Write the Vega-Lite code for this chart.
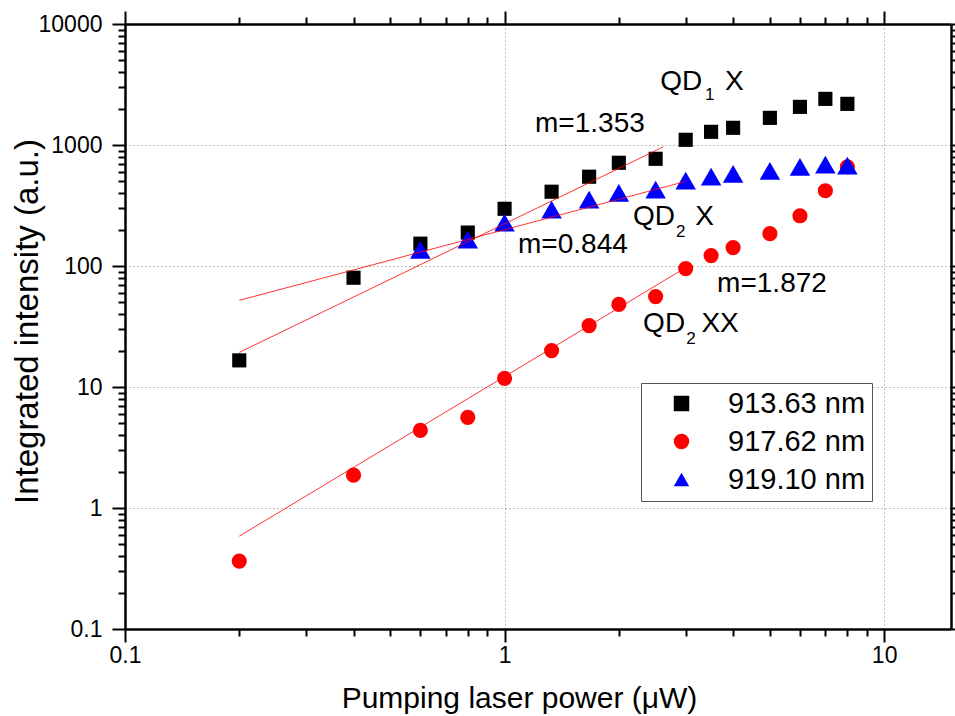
{
  "$schema": "https://vega.github.io/schema/vega-lite/v6.json",
  "width": 826,
  "height": 605,
  "autosize": "none",
  "padding": {"left": 125, "top": 24, "right": 4, "bottom": 87},
  "background": "white",
  "config": {
    "view": {"stroke": null},
    "font": "Liberation Sans",
    "axis": {
      "domainColor": "black",
      "domainWidth": 2.5,
      "tickColor": "black",
      "tickWidth": 2,
      "labelColor": "black",
      "labelFont": "Liberation Sans",
      "labelFontSize": 23,
      "labelFlush": false,
      "labelOverlap": false,
      "titleFont": "Liberation Sans",
      "titleColor": "black",
      "titleFontWeight": "normal"
    }
  },
  "datasets": {
    "points": [
      {"series": "913.63 nm", "power": 0.2, "intensity": 16.6},
      {"series": "913.63 nm", "power": 0.4, "intensity": 80},
      {"series": "913.63 nm", "power": 0.6, "intensity": 153},
      {"series": "913.63 nm", "power": 0.8, "intensity": 189},
      {"series": "913.63 nm", "power": 1.0, "intensity": 297},
      {"series": "913.63 nm", "power": 1.33, "intensity": 411},
      {"series": "913.63 nm", "power": 1.67, "intensity": 547},
      {"series": "913.63 nm", "power": 2.0, "intensity": 713},
      {"series": "913.63 nm", "power": 2.5, "intensity": 769},
      {"series": "913.63 nm", "power": 3.0, "intensity": 1104},
      {"series": "913.63 nm", "power": 3.5, "intensity": 1285},
      {"series": "913.63 nm", "power": 4.0, "intensity": 1387},
      {"series": "913.63 nm", "power": 5.0, "intensity": 1676},
      {"series": "913.63 nm", "power": 6.0, "intensity": 2066},
      {"series": "913.63 nm", "power": 7.0, "intensity": 2405},
      {"series": "913.63 nm", "power": 8.0, "intensity": 2188},
      {"series": "917.62 nm", "power": 0.2, "intensity": 0.364},
      {"series": "917.62 nm", "power": 0.4, "intensity": 1.87},
      {"series": "917.62 nm", "power": 0.6, "intensity": 4.38},
      {"series": "917.62 nm", "power": 0.8, "intensity": 5.61},
      {"series": "917.62 nm", "power": 1.0, "intensity": 11.8},
      {"series": "917.62 nm", "power": 1.33, "intensity": 20.0},
      {"series": "917.62 nm", "power": 1.67, "intensity": 32.2},
      {"series": "917.62 nm", "power": 2.0, "intensity": 48.1},
      {"series": "917.62 nm", "power": 2.5, "intensity": 55.9},
      {"series": "917.62 nm", "power": 3.0, "intensity": 95.2},
      {"series": "917.62 nm", "power": 3.5, "intensity": 122},
      {"series": "917.62 nm", "power": 4.0, "intensity": 142},
      {"series": "917.62 nm", "power": 5.0, "intensity": 185},
      {"series": "917.62 nm", "power": 6.0, "intensity": 260},
      {"series": "917.62 nm", "power": 7.0, "intensity": 419},
      {"series": "917.62 nm", "power": 8.0, "intensity": 661},
      {"series": "919.10 nm", "power": 0.6, "intensity": 136},
      {"series": "919.10 nm", "power": 0.8, "intensity": 165},
      {"series": "919.10 nm", "power": 1.0, "intensity": 228},
      {"series": "919.10 nm", "power": 1.33, "intensity": 292},
      {"series": "919.10 nm", "power": 1.67, "intensity": 353},
      {"series": "919.10 nm", "power": 2.0, "intensity": 403},
      {"series": "919.10 nm", "power": 2.5, "intensity": 427},
      {"series": "919.10 nm", "power": 3.0, "intensity": 507},
      {"series": "919.10 nm", "power": 3.5, "intensity": 547},
      {"series": "919.10 nm", "power": 4.0, "intensity": 578},
      {"series": "919.10 nm", "power": 5.0, "intensity": 612},
      {"series": "919.10 nm", "power": 6.0, "intensity": 661},
      {"series": "919.10 nm", "power": 7.0, "intensity": 687},
      {"series": "919.10 nm", "power": 8.0, "intensity": 674}
    ],
    "fits": [
      {"fit": "QD1 X", "power": 0.2, "intensity": 19.3},
      {"fit": "QD1 X", "power": 2.62, "intensity": 966},
      {"fit": "QD2 X", "power": 0.2, "intensity": 52},
      {"fit": "QD2 X", "power": 3.0, "intensity": 500},
      {"fit": "QD2 XX", "power": 0.2, "intensity": 0.585},
      {"fit": "QD2 XX", "power": 3.0, "intensity": 97}
    ],
    "labels": [
      {"text": "m=1.353", "power": 1.203, "intensity": 1285},
      {"text": "QD", "power": 2.57, "intensity": 2854},
      {"text": "X", "power": 3.81, "intensity": 2854},
      {"text": "QD", "power": 2.18, "intensity": 219.6},
      {"text": "X", "power": 3.18, "intensity": 219.6},
      {"text": "m=0.844", "power": 1.085, "intensity": 129},
      {"text": "m=1.872", "power": 3.63, "intensity": 61.5},
      {"text": "QD", "power": 2.317, "intensity": 28.7},
      {"text": "XX", "power": 3.3, "intensity": 28.7}
    ],
    "subscripts": [
      {"text": "1", "power": 3.375, "intensity": 2360},
      {"text": "2", "power": 2.83, "intensity": 175},
      {"text": "2", "power": 3.01, "intensity": 22.5}
    ]
  },
  "layer": [
    {
      "data": {"name": "points"},
      "mark": {"type": "point", "filled": true, "opacity": 1, "strokeWidth": 0},
      "encoding": {
        "x": {
          "field": "power", "type": "quantitative",
          "scale": {"type": "log", "domain": [0.1, 15], "nice": false},
          "axis": {
            "orient": "bottom",
            "values": [0.1, 0.2, 0.3, 0.4, 0.5, 0.6, 0.7, 0.8, 0.9, 1, 2, 3, 4, 5, 6, 7, 8, 9, 10],
            "format": "~g",
            "labelExpr": "abs(log(datum.value)/LN10 - round(log(datum.value)/LN10)) < 0.001 ? datum.label : ''",
            "tickSize": {"condition": {"test": "abs(log(datum.value)/LN10 - round(log(datum.value)/LN10)) < 0.001", "value": 13}, "value": 7},
            "labelPadding": 2,
            "grid": true,
            "gridColor": "#808080",
            "gridDash": [1, 3],
            "gridWidth": 1,
            "gridOpacity": {"condition": {"test": "abs(log(datum.value)/LN10 - round(log(datum.value)/LN10)) < 0.001", "value": 1}, "value": 0},
            "title": "Pumping laser power (μW)",
            "titleFontSize": 30,
            "titleX": 394,
            "titleY": 78,
            "titleAlign": "center",
            "titleBaseline": "alphabetic"
          }
        },
        "y": {
          "field": "intensity", "type": "quantitative",
          "scale": {"type": "log", "domain": [0.1, 10000], "nice": false},
          "axis": {
            "orient": "left",
            "values": [0.1, 0.2, 0.3, 0.4, 0.5, 0.6, 0.7, 0.8, 0.9, 1, 2, 3, 4, 5, 6, 7, 8, 9, 10, 20, 30, 40, 50, 60, 70, 80, 90, 100, 200, 300, 400, 500, 600, 700, 800, 900, 1000, 2000, 3000, 4000, 5000, 6000, 7000, 8000, 9000, 10000],
            "format": "~g",
            "labelExpr": "abs(log(datum.value)/LN10 - round(log(datum.value)/LN10)) < 0.001 ? datum.label : ''",
            "tickSize": {"condition": {"test": "abs(log(datum.value)/LN10 - round(log(datum.value)/LN10)) < 0.001", "value": 13}, "value": 7},
            "labelPadding": 10,
            "grid": true,
            "gridColor": "#808080",
            "gridDash": [1, 3],
            "gridWidth": 1,
            "gridOpacity": {"condition": {"test": "abs(log(datum.value)/LN10 - round(log(datum.value)/LN10)) < 0.001", "value": 1}, "value": 0},
            "title": "Integrated intensity (a.u.)",
            "titleFontSize": 33,
            "titleX": -88,
            "titleY": 297,
            "titleAngle": -90,
            "titleAlign": "center",
            "titleBaseline": "alphabetic"
          }
        },
        "color": {
          "field": "series", "type": "nominal",
          "scale": {"domain": ["913.63 nm", "917.62 nm", "919.10 nm"], "range": ["#000000", "#ff0000", "#0000ff"]},
          "legend": {"orient": "none", "legendX": 516, "legendY": 359, "title": null, "labelFontSize": 29, "labelColor": "black", "labelFont": "Liberation Sans", "padding": 6, "symbolOffset": 20, "labelOffset": 32, "rowPadding": 8, "symbolSize": 240, "strokeColor": "#555555", "fillColor": "white"}
        },
        "shape": {
          "field": "series", "type": "nominal",
          "scale": {"domain": ["913.63 nm", "917.62 nm", "919.10 nm"], "range": ["square", "circle", "triangle-up"]},
          "legend": {"orient": "none", "legendX": 516, "legendY": 359, "title": null, "labelFontSize": 29, "labelColor": "black", "labelFont": "Liberation Sans", "padding": 6, "symbolOffset": 20, "labelOffset": 32, "rowPadding": 8, "symbolSize": 240, "strokeColor": "#555555", "fillColor": "white"}
        },
        "size": {
          "condition": [
            {"test": "datum.series === '919.10 nm'", "value": 420},
            {"test": "datum.series === '917.62 nm'", "value": 230}
          ],
          "value": 200
        }
      }
    },
    {
      "data": {"name": "fits"},
      "mark": {"type": "line", "color": "#ff0000", "strokeWidth": 1, "opacity": 0.8},
      "encoding": {
        "x": {
          "field": "power", "type": "quantitative",
          "scale": {"type": "log", "domain": [0.1, 15], "nice": false},
          "axis": {
            "orient": "top",
            "values": [0.1, 0.2, 0.3, 0.4, 0.5, 0.6, 0.7, 0.8, 0.9, 1, 2, 3, 4, 5, 6, 7, 8, 9, 10],
            "labels": false,
            "grid": false,
            "title": null,
            "tickSize": {"condition": {"test": "abs(log(datum.value)/LN10 - round(log(datum.value)/LN10)) < 0.001", "value": 13}, "value": 7}
          }
        },
        "y": {
          "field": "intensity", "type": "quantitative",
          "scale": {"type": "log", "domain": [0.1, 10000], "nice": false},
          "axis": {
            "orient": "right",
            "values": [0.1, 0.2, 0.3, 0.4, 0.5, 0.6, 0.7, 0.8, 0.9, 1, 2, 3, 4, 5, 6, 7, 8, 9, 10, 20, 30, 40, 50, 60, 70, 80, 90, 100, 200, 300, 400, 500, 600, 700, 800, 900, 1000, 2000, 3000, 4000, 5000, 6000, 7000, 8000, 9000, 10000],
            "labels": false,
            "grid": false,
            "title": null,
            "tickSize": {"condition": {"test": "abs(log(datum.value)/LN10 - round(log(datum.value)/LN10)) < 0.001", "value": 13}, "value": 7}
          }
        },
        "detail": {"field": "fit", "type": "nominal"}
      }
    },
    {
      "data": {"name": "labels"},
      "mark": {"type": "text", "align": "left", "baseline": "alphabetic", "fontSize": 28, "font": "Liberation Sans", "color": "black"},
      "encoding": {
        "x": {"field": "power", "type": "quantitative", "scale": {"type": "log", "domain": [0.1, 15], "nice": false}, "axis": null},
        "y": {"field": "intensity", "type": "quantitative", "scale": {"type": "log", "domain": [0.1, 10000], "nice": false}, "axis": null},
        "text": {"field": "text", "type": "nominal"}
      }
    },
    {
      "data": {"name": "subscripts"},
      "mark": {"type": "text", "align": "left", "baseline": "alphabetic", "fontSize": 17, "font": "Liberation Sans", "color": "black"},
      "encoding": {
        "x": {"field": "power", "type": "quantitative", "scale": {"type": "log", "domain": [0.1, 15], "nice": false}, "axis": null},
        "y": {"field": "intensity", "type": "quantitative", "scale": {"type": "log", "domain": [0.1, 10000], "nice": false}, "axis": null},
        "text": {"field": "text", "type": "nominal"}
      }
    }
  ],
  "resolve": {"axis": {"x": "independent", "y": "independent"}}
}
